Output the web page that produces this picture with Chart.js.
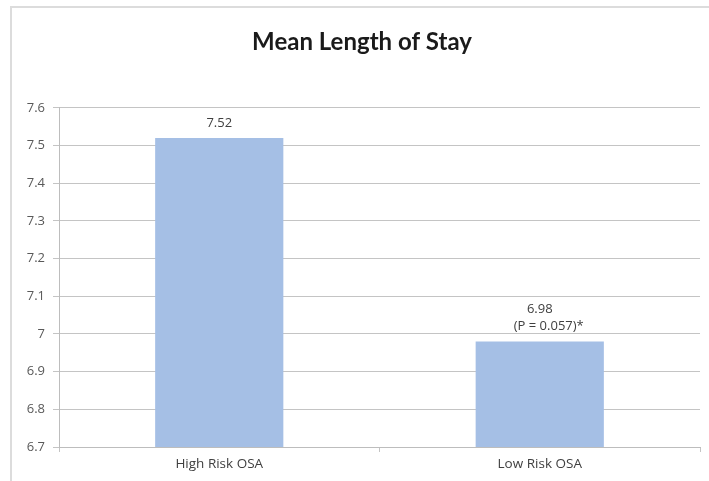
<!DOCTYPE html>
<html>
<head>
<meta charset="utf-8">
<script src="https://cdn.jsdelivr.net/npm/chart.js@4"></script>
<style>
  html, body { margin: 0; padding: 0; background: #fff; }
  #wrap { position: relative; width: 709px; height: 481px; overflow: hidden; }
  #frame {
    position: absolute; left: 10px; top: 6px; width: 720px; height: 500px;
    border-top: 2px solid #dcdcdc; border-left: 2px solid #dcdcdc;
  }
  #chart { position: absolute; left: 0; top: 0; }
</style>
</head>
<body>
<div id="wrap">
  <div id="frame"></div>
  <canvas id="chart" width="709" height="481"></canvas>
</div>
<script>
// categories and mean stay values
var groups = ["High Risk OSA", "Low Risk OSA"];
var meanStay = [7.52, 6.98];
var notes = ["", "(P = 0.057)*"];

var yMin = 6.7, yMax = 7.6, yStep = 0.1;

// writes the value (and any note) above each bar
var barLabels = {
  id: 'barLabels',
  afterDatasetsDraw: function(chart) {
    var ctx = chart.ctx;
    var meta = chart.getDatasetMeta(0);
    ctx.save();
    ctx.font = '13px "Open Sans", sans-serif';
    ctx.fillStyle = '#404040';
    ctx.textAlign = 'center';
    ctx.textBaseline = 'middle';
    meta.data.forEach(function(bar, i) {
      var lines = [meanStay[i].toFixed(2)];
      if (notes[i]) lines.push(notes[i]);
      var y = bar.y - 15 - (lines.length - 1) * 17;
      lines.forEach(function(txt, k) {
        ctx.fillText(txt, bar.x + (k > 0 ? 9 : 0), y + k * 17);
      });
    });
    ctx.restore();
  }
};

new Chart(document.getElementById("chart"), {
  type: 'bar',
  data: {
    labels: groups,
    datasets: [{
      data: meanStay,
      backgroundColor: '#a5bfe5',
      borderWidth: 0,
      categoryPercentage: 0.4,
      barPercentage: 1.0
    }]
  },
  options: {
    responsive: false,
    animation: false,
    layout: { padding: { top: 28, right: 9, left: 24, bottom: 0 } },
    plugins: {
      legend: { display: false },
      tooltip: { enabled: false },
      title: {
        display: true,
        text: 'Mean Length of Stay',
        color: '#1a1a1a',
        font: { family: 'Lato', size: 24, weight: 'bold' },
        padding: { top: 0, bottom: 51 }
      }
    },
    scales: {
      y: {
        min: yMin,
        max: yMax,
        ticks: {
          stepSize: yStep,
          color: '#595959',
          padding: 8,
          font: { family: '"Open Sans", sans-serif', size: 13 },
          callback: function(v) { return String(Number(v.toFixed(1))); }
        },
        grid: { color: '#c4c4c4', tickLength: 6, lineWidth: 1 },
        border: { color: '#bdbdbd' },
        afterFit: function(scale) { scale.width = 35; }
      },
      x: {
        ticks: {
          color: '#404040',
          padding: 4,
          font: { family: '"Open Sans", sans-serif', size: 13.5 }
        },
        grid: { drawOnChartArea: false, color: '#c4c4c4', tickLength: 5 },
        border: { color: '#bdbdbd' },
        afterFit: function(scale) { scale.height = 34; }
      }
    }
  },
  plugins: [barLabels]
});
</script>
</body>
</html>
